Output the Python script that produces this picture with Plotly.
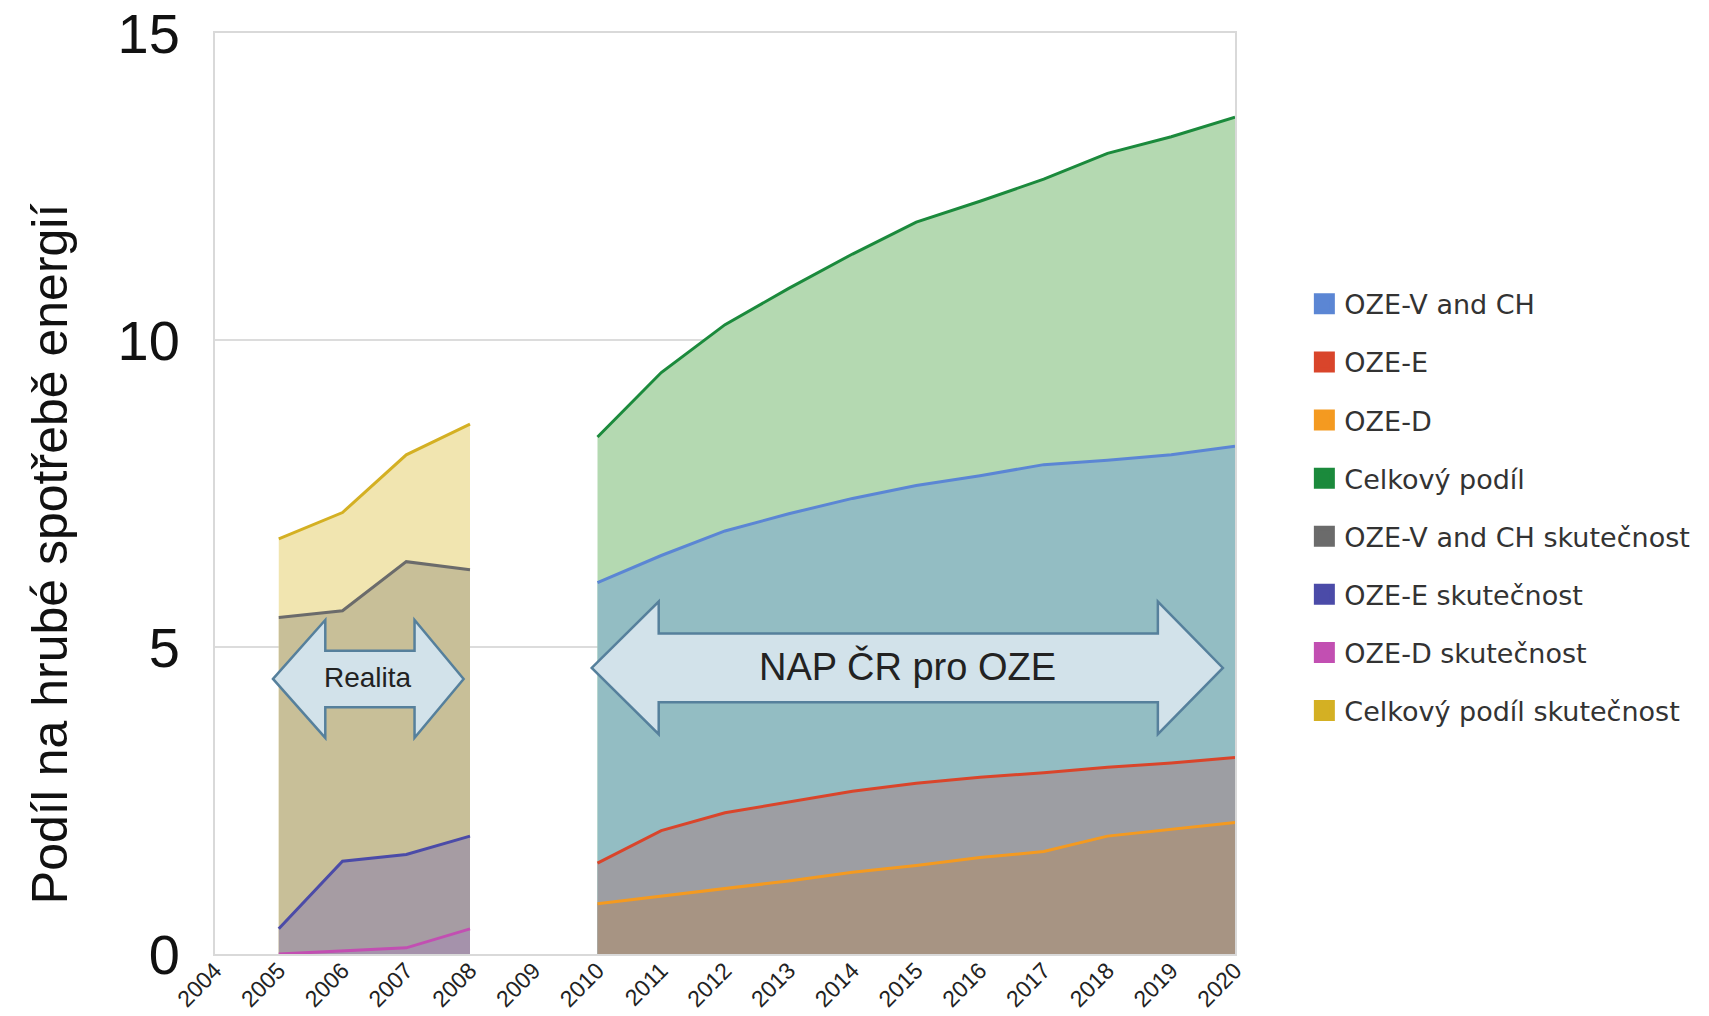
import plotly.graph_objects as go

years_real = [2005, 2006, 2007, 2008]
years_nap = list(range(2010, 2021))

# NAP ČR plan (2010-2020)
oze_v_ch = [6.05, 6.49, 6.89, 7.17, 7.42, 7.63, 7.79, 7.97, 8.04, 8.13, 8.27]
oze_e = [1.48, 2.01, 2.30, 2.47, 2.65, 2.78, 2.88, 2.95, 3.04, 3.11, 3.20]
oze_d = [0.82, 0.94, 1.07, 1.19, 1.33, 1.44, 1.57, 1.67, 1.92, 2.03, 2.14]
celkovy = [8.42, 9.47, 10.25, 10.84, 11.40, 11.92, 12.26, 12.62, 13.04, 13.31, 13.63]

# actual values (2005-2008)
oze_v_ch_sk = [5.48, 5.59, 6.39, 6.26]
oze_e_sk = [0.41, 1.51, 1.62, 1.92]
oze_d_sk = [0.0, 0.05, 0.10, 0.41]
celkovy_sk = [6.76, 7.19, 8.13, 8.63]

# (name, x, y, line colour, fill colour) in drawing order, back to front
areas = [
    ("Celkový podíl", years_nap, celkovy, "#1b8a3c", "#b4d9b1"),
    ("OZE-V and CH", years_nap, oze_v_ch, "#5b86d4", "#93bdc3"),
    ("OZE-E", years_nap, oze_e, "#d9452b", "#9d9ea3"),
    ("OZE-D", years_nap, oze_d, "#f49a20", "#a79483"),
    ("Celkový podíl skutečnost", years_real, celkovy_sk, "#d4b023", "#f1e5b0"),
    ("OZE-V and CH skutečnost", years_real, oze_v_ch_sk, "#6b6b6b", "#c8bf98"),
    ("OZE-E skutečnost", years_real, oze_e_sk, "#4b4ba8", "#a69ca3"),
    ("OZE-D skutečnost", years_real, oze_d_sk, "#c24fb2", "#a592ab"),
]
legend_order = [
    "OZE-V and CH", "OZE-E", "OZE-D", "Celkový podíl",
    "OZE-V and CH skutečnost", "OZE-E skutečnost", "OZE-D skutečnost",
    "Celkový podíl skutečnost",
]

fig = go.Figure()
for name, x, y, line_c, fill_c in areas:
    fig.add_trace(go.Scatter(
        x=x, y=y, mode="lines", fill="tozeroy", fillcolor=fill_c,
        line=dict(color=line_c, width=3), showlegend=False, hoverinfo="x+y+name", name=name,
    ))

colors = {a[0]: a[3] for a in areas}
for i, name in enumerate(legend_order):
    c = colors[name]
    fig.add_trace(go.Scatter(
        x=[None], y=[None], mode="markers", name=name, legendgroup=name, legendrank=i,
        marker=dict(symbol="square", size=16, color=c, line=dict(color=c, width=5)),
    ))


def double_arrow(x0, x1, xi0, xi1, yc, shaft_h, head_h):
    # outline of a horizontal double-headed block arrow in data coords
    st, sb = yc + shaft_h / 2, yc - shaft_h / 2
    ht, hb = yc + head_h / 2, yc - head_h / 2
    pts = [(x0, yc), (xi0, ht), (xi0, st), (xi1, st), (xi1, ht), (x1, yc),
           (xi1, hb), (xi1, sb), (xi0, sb), (xi0, hb)]
    return "M " + " L ".join(f"{px},{py}" for px, py in pts) + " Z"


arrows = [
    ("Realita", 2004.91, 2007.9, 2005.73, 2007.13, 4.48, 0.92, 1.92, 28),
    ("NAP ČR pro OZE", 2009.91, 2019.81, 2010.96, 2018.79, 4.66, 1.12, 2.16, 38),
]
for label, x0, x1, xi0, xi1, yc, sh, hh, fs in arrows:
    fig.add_shape(type="path", xref="x", yref="y",
                  path=double_arrow(x0, x1, xi0, xi1, yc, sh, hh),
                  fillcolor="#d2e2ea", line=dict(color="#56809c", width=2.5))
    fig.add_annotation(x=(x0 + x1) / 2, y=yc + 0.02, text=label, showarrow=False,
                       font=dict(family="Liberation Sans, Arial", size=fs, color="#222"))

# y-axis title placed by hand (sits lower than the plot centre in the original)
fig.add_annotation(xref="paper", yref="paper", x=-0.161, y=0.435, textangle=-90,
                   text="Podíl na hrubé spotřebě energií", showarrow=False,
                   xanchor="center", yanchor="middle",
                   font=dict(family="Liberation Sans, Arial", size=50, color="#111"))

fig.update_layout(
    width=1709, height=1016,
    paper_bgcolor="white", plot_bgcolor="white",
    margin=dict(l=207, r=482, t=25, b=70),
    showlegend=True,
    legend=dict(x=1.068, xanchor="left", y=0.485, yanchor="middle",
                font=dict(family="DejaVu Sans", size=27, color="#333"),
                tracegroupgap=20, traceorder="grouped", itemwidth=30),
)
fig.update_xaxes(range=[2004, 2020], dtick=1, tick0=2004, tickangle=-45, automargin=False,
                 showgrid=False, zeroline=False, showline=True, linecolor="#d9d9d9",
                 linewidth=2, mirror=True, ticklabeloverflow="allow", ticklabelstandoff=-8,
                 tickfont=dict(family="Liberation Sans, Arial", size=23, color="#222"))
fig.update_yaxes(range=[0, 15], dtick=5, showgrid=True, gridcolor="#dcdcdc", gridwidth=2,
                 zeroline=False, showline=True, mirror=True, linecolor="#d9d9d9", linewidth=2,
                 ticklabelstandoff=22, automargin=False, ticklabeloverflow="allow",
                 tickfont=dict(family="Liberation Sans, Arial", size=56, color="#111"))

fig.write_html("out.html")
